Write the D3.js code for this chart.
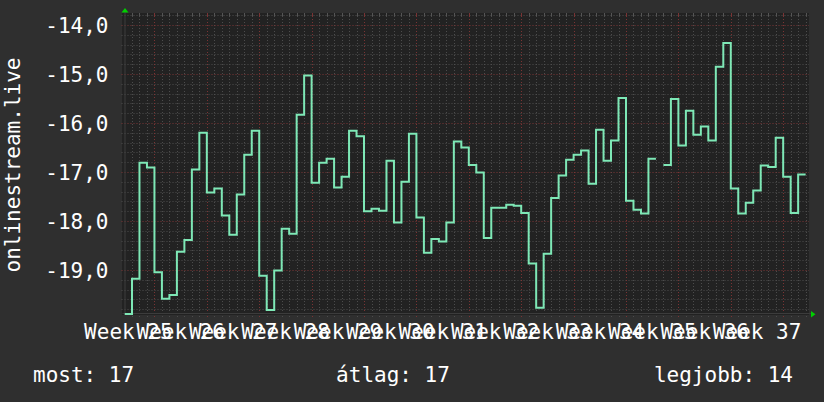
<!DOCTYPE html>
<html>
<head>
<meta charset="utf-8">
<script src="https://cdn.jsdelivr.net/npm/d3@7"></script>
<style>
  html, body { margin: 0; padding: 0; background: #2f2f2f; }
  svg { display: block; }
  text { font-family: 'DejaVu Sans Mono', monospace; fill: #ffffff; }
</style>
</head>
<body>
<div id="chart"></div>
<script>
// one value per day, index 0 = first day on the chart; null = no data
var dailyValues = [
  -19.9, -19.18, -16.81, -16.91, -19.05, -19.59, -19.51, -18.63, -18.39, -16.95,
  -16.2, -17.42, -17.34, -17.89, -18.28, -17.46, -16.65, -16.16, -19.12, -19.82,
  -19.01, -18.16, -18.26, -15.83, -15.03, -17.22, -16.81, -16.73, -17.32, -17.1,
  -16.16, -16.27, -17.8, -17.75, -17.79, -16.77, -18.03, -17.2, -16.22, -17.93,
  -18.65, -18.37, -18.42, -18.03, -16.38, -16.5, -16.86, -17.01, -18.35, -17.73,
  -17.73, -17.67, -17.69, -17.84, -18.87, -19.77, -18.67, -17.53, -17.07, -16.75,
  -16.65, -16.56, -17.24, -16.14, -16.77, -16.36, -15.49, -17.59, -17.77, -17.85,
  -16.73, null, -16.86, -15.51, -16.46, -15.75, -16.24, -16.07, -16.36, -14.85,
  -14.37, -17.34, -17.85, -17.63, -17.38, -16.87, -16.9, -16.3, -17.1, -17.84,
  -17.05
]

var weekLabels = [
  'Week 25', 'Week 26', 'Week 27', 'Week 28', 'Week 29', 'Week 30', 'Week 31',
  'Week 32', 'Week 33', 'Week 34', 'Week 35', 'Week 36', 'Week 37'
]

var yTicks = [-19, -18, -17, -16, -15, -14]

var axisTitle = 'onlinestream.live'
var legendNames = ['most', 'átlag', 'legjobb']
var legendValues = [17, 17, 14]

var width = 824
var height = 402
var plot = { left: 124.5, right: 809, top: 13, bottom: 314 }

var lineColor = '#7ee8b6'
var minorGrid = '#4c4c4c'
var majorGrid = '#7a3434'
var arrowColor = '#00d000'

var locale = d3.formatLocale({
  decimal: ',',
  thousands: ' ',
  grouping: [3],
  currency: ['', ''],
  minus: '-'
})
var fmt = locale.format('.1f')

var x = d3.scaleLinear()
  .domain([0, 91.45])
  .range([plot.left, plot.right])

var y = d3.scaleLinear()
  .domain([-19.9, -13.755])
  .range([plot.bottom, plot.top])

var svg = d3.select('#chart').append('svg')
  .attr('width', width)
  .attr('height', height)

svg.append('rect')
  .attr('width', width)
  .attr('height', height)
  .attr('fill', '#2f2f2f')

svg.append('rect')
  .attr('x', plot.left - 2.5)
  .attr('y', plot.top)
  .attr('width', plot.right - plot.left + 2.5)
  .attr('height', plot.bottom - plot.top + 1)
  .attr('fill', '#222222')

// grid: horizontal lines every 0.2, vertical every day
var hMinor = d3.range(-19.8, -13.75, 0.2).filter(function (v) {
  return Math.abs(v - Math.round(v)) > 0.01
})
var dayCount = Math.floor(x.domain()[1])
var vAll = d3.range(1, dayCount + 1)
var isMajorDay = function (d) { return (d - 4) % 7 === 0 }

var grid = svg.append('g')

grid.selectAll('line.hminor')
  .data(hMinor)
  .enter().append('line')
  .attr('x1', plot.left - 3)
  .attr('x2', plot.right)
  .attr('y1', function (d) { return Math.round(y(d)) + 0.5 })
  .attr('y2', function (d) { return Math.round(y(d)) + 0.5 })
  .attr('stroke', minorGrid)
  .attr('stroke-dasharray', '1,2')

grid.selectAll('line.vminor')
  .data(vAll.filter(function (d) { return !isMajorDay(d) }))
  .enter().append('line')
  .attr('x1', function (d) { return Math.round(x(d)) + 0.5 })
  .attr('x2', function (d) { return Math.round(x(d)) + 0.5 })
  .attr('y1', plot.top)
  .attr('y2', plot.bottom + 3)
  .attr('stroke', minorGrid)
  .attr('stroke-dasharray', '1,2')

grid.selectAll('line.hmajor')
  .data(yTicks)
  .enter().append('line')
  .attr('x1', plot.left - 3)
  .attr('x2', plot.right)
  .attr('y1', function (d) { return Math.round(y(d)) + 0.5 })
  .attr('y2', function (d) { return Math.round(y(d)) + 0.5 })
  .attr('stroke', majorGrid)
  .attr('stroke-dasharray', '1,2')

grid.selectAll('line.vmajor')
  .data(vAll.filter(isMajorDay))
  .enter().append('line')
  .attr('x1', function (d) { return Math.round(x(d)) + 0.5 })
  .attr('x2', function (d) { return Math.round(x(d)) + 0.5 })
  .attr('y1', plot.top)
  .attr('y2', plot.bottom + 3)
  .attr('stroke', majorGrid)
  .attr('stroke-dasharray', '1,2')

// small solid ticks on the top edge
grid.selectAll('line.ttick')
  .data(vAll)
  .enter().append('line')
  .attr('x1', function (d) { return Math.round(x(d)) + 0.5 })
  .attr('x2', function (d) { return Math.round(x(d)) + 0.5 })
  .attr('y1', plot.top)
  .attr('y2', plot.top + 3)
  .attr('stroke', function (d) { return isMajorDay(d) ? majorGrid : '#555555' })

// axes lines
svg.append('line')
  .attr('x1', plot.left + 0.5).attr('x2', plot.left + 0.5)
  .attr('y1', plot.top - 1).attr('y2', plot.bottom + 1)
  .attr('stroke', '#3c3c3c')
svg.append('line')
  .attr('x1', plot.left - 2).attr('x2', plot.right + 2)
  .attr('y1', plot.bottom - 0.5).attr('y2', plot.bottom - 0.5)
  .attr('stroke', '#3c3c3c')

// the series, one flat step per day
var steps = []
dailyValues.forEach(function (v, i) {
  if (v === null) {
    steps.push({ day: i, v: null })
  } else {
    steps.push({ day: i, v: v })
    steps.push({ day: i + 1, v: v })
  }
})

svg.append('clipPath').attr('id', 'clip')
  .append('rect')
  .attr('x', plot.left)
  .attr('y', plot.top - 2)
  .attr('width', plot.right - plot.left)
  .attr('height', plot.bottom - plot.top + 4)

var line = d3.line()
  .defined(function (d) { return d.v !== null })
  .x(function (d) { return x(d.day) })
  .y(function (d) { return y(Math.max(d.v, y.domain()[0])) })

svg.append('path')
  .datum(steps)
  .attr('clip-path', 'url(#clip)')
  .attr('fill', 'none')
  .attr('stroke', lineColor)
  .attr('stroke-width', 2)
  .attr('stroke-linejoin', 'miter')
  .attr('d', line)

// y axis labels
var yAxis = d3.axisLeft(y)
  .tickValues(yTicks)
  .tickSize(0)
  .tickPadding(16)
  .tickFormat(fmt)

var gy = svg.append('g')
  .attr('transform', 'translate(' + plot.left + ',0)')
  .call(yAxis)
gy.select('.domain').remove()
gy.selectAll('text')
  .attr('fill', '#ffffff')
  .style('font-family', "'DejaVu Sans Mono', monospace")
  .style('font-size', '21px')
  .attr('dy', '0.36em')

// x axis labels, one per week
var labelDays = weekLabels.map(function (d, i) { return 0.45 + 7 * i })
var xAxis = d3.axisBottom(x)
  .tickValues(labelDays)
  .tickSize(0)
  .tickPadding(9)
  .tickFormat(function (d, i) { return weekLabels[i] })

var gx = svg.append('g')
  .attr('transform', 'translate(0,' + plot.bottom + ')')
  .call(xAxis)
gx.select('.domain').remove()
gx.selectAll('text')
  .attr('fill', '#ffffff')
  .style('font-family', "'DejaVu Sans Mono', monospace")
  .style('font-size', '21px')
  .attr('dy', '0.76em')

// arrows
svg.append('path')
  .attr('d', 'M' + (plot.left - 3) + ',' + (plot.top - 0.5) +
    'L' + (plot.left + 4) + ',' + (plot.top - 0.5) +
    'L' + (plot.left + 0.5) + ',' + (plot.top - 5))
  .attr('fill', arrowColor)
svg.append('path')
  .attr('d', 'M' + (plot.right + 2) + ',' + (plot.bottom - 3) +
    'L' + (plot.right + 2) + ',' + (plot.bottom + 3.5) +
    'L' + (plot.right + 6.5) + ',' + (plot.bottom + 0.2))
  .attr('fill', arrowColor)

// vertical title
svg.append('text')
  .attr('transform', 'translate(13,' + 165 + ') rotate(-90)')
  .attr('text-anchor', 'middle')
  .attr('dominant-baseline', 'central')
  .style('font-size', '21px')
  .text(axisTitle)

// legend row
var legendX = [33, 393, 793]
var legendAnchor = ['start', 'middle', 'end']
svg.selectAll('text.legend')
  .data(legendNames)
  .enter().append('text')
  .attr('class', 'legend')
  .attr('x', function (d, i) { return legendX[i] })
  .attr('y', 382)
  .attr('text-anchor', function (d, i) { return legendAnchor[i] })
  .style('font-size', '21px')
  .text(function (d, i) { return d + ': ' + legendValues[i] })
</script>
</body>
</html>
